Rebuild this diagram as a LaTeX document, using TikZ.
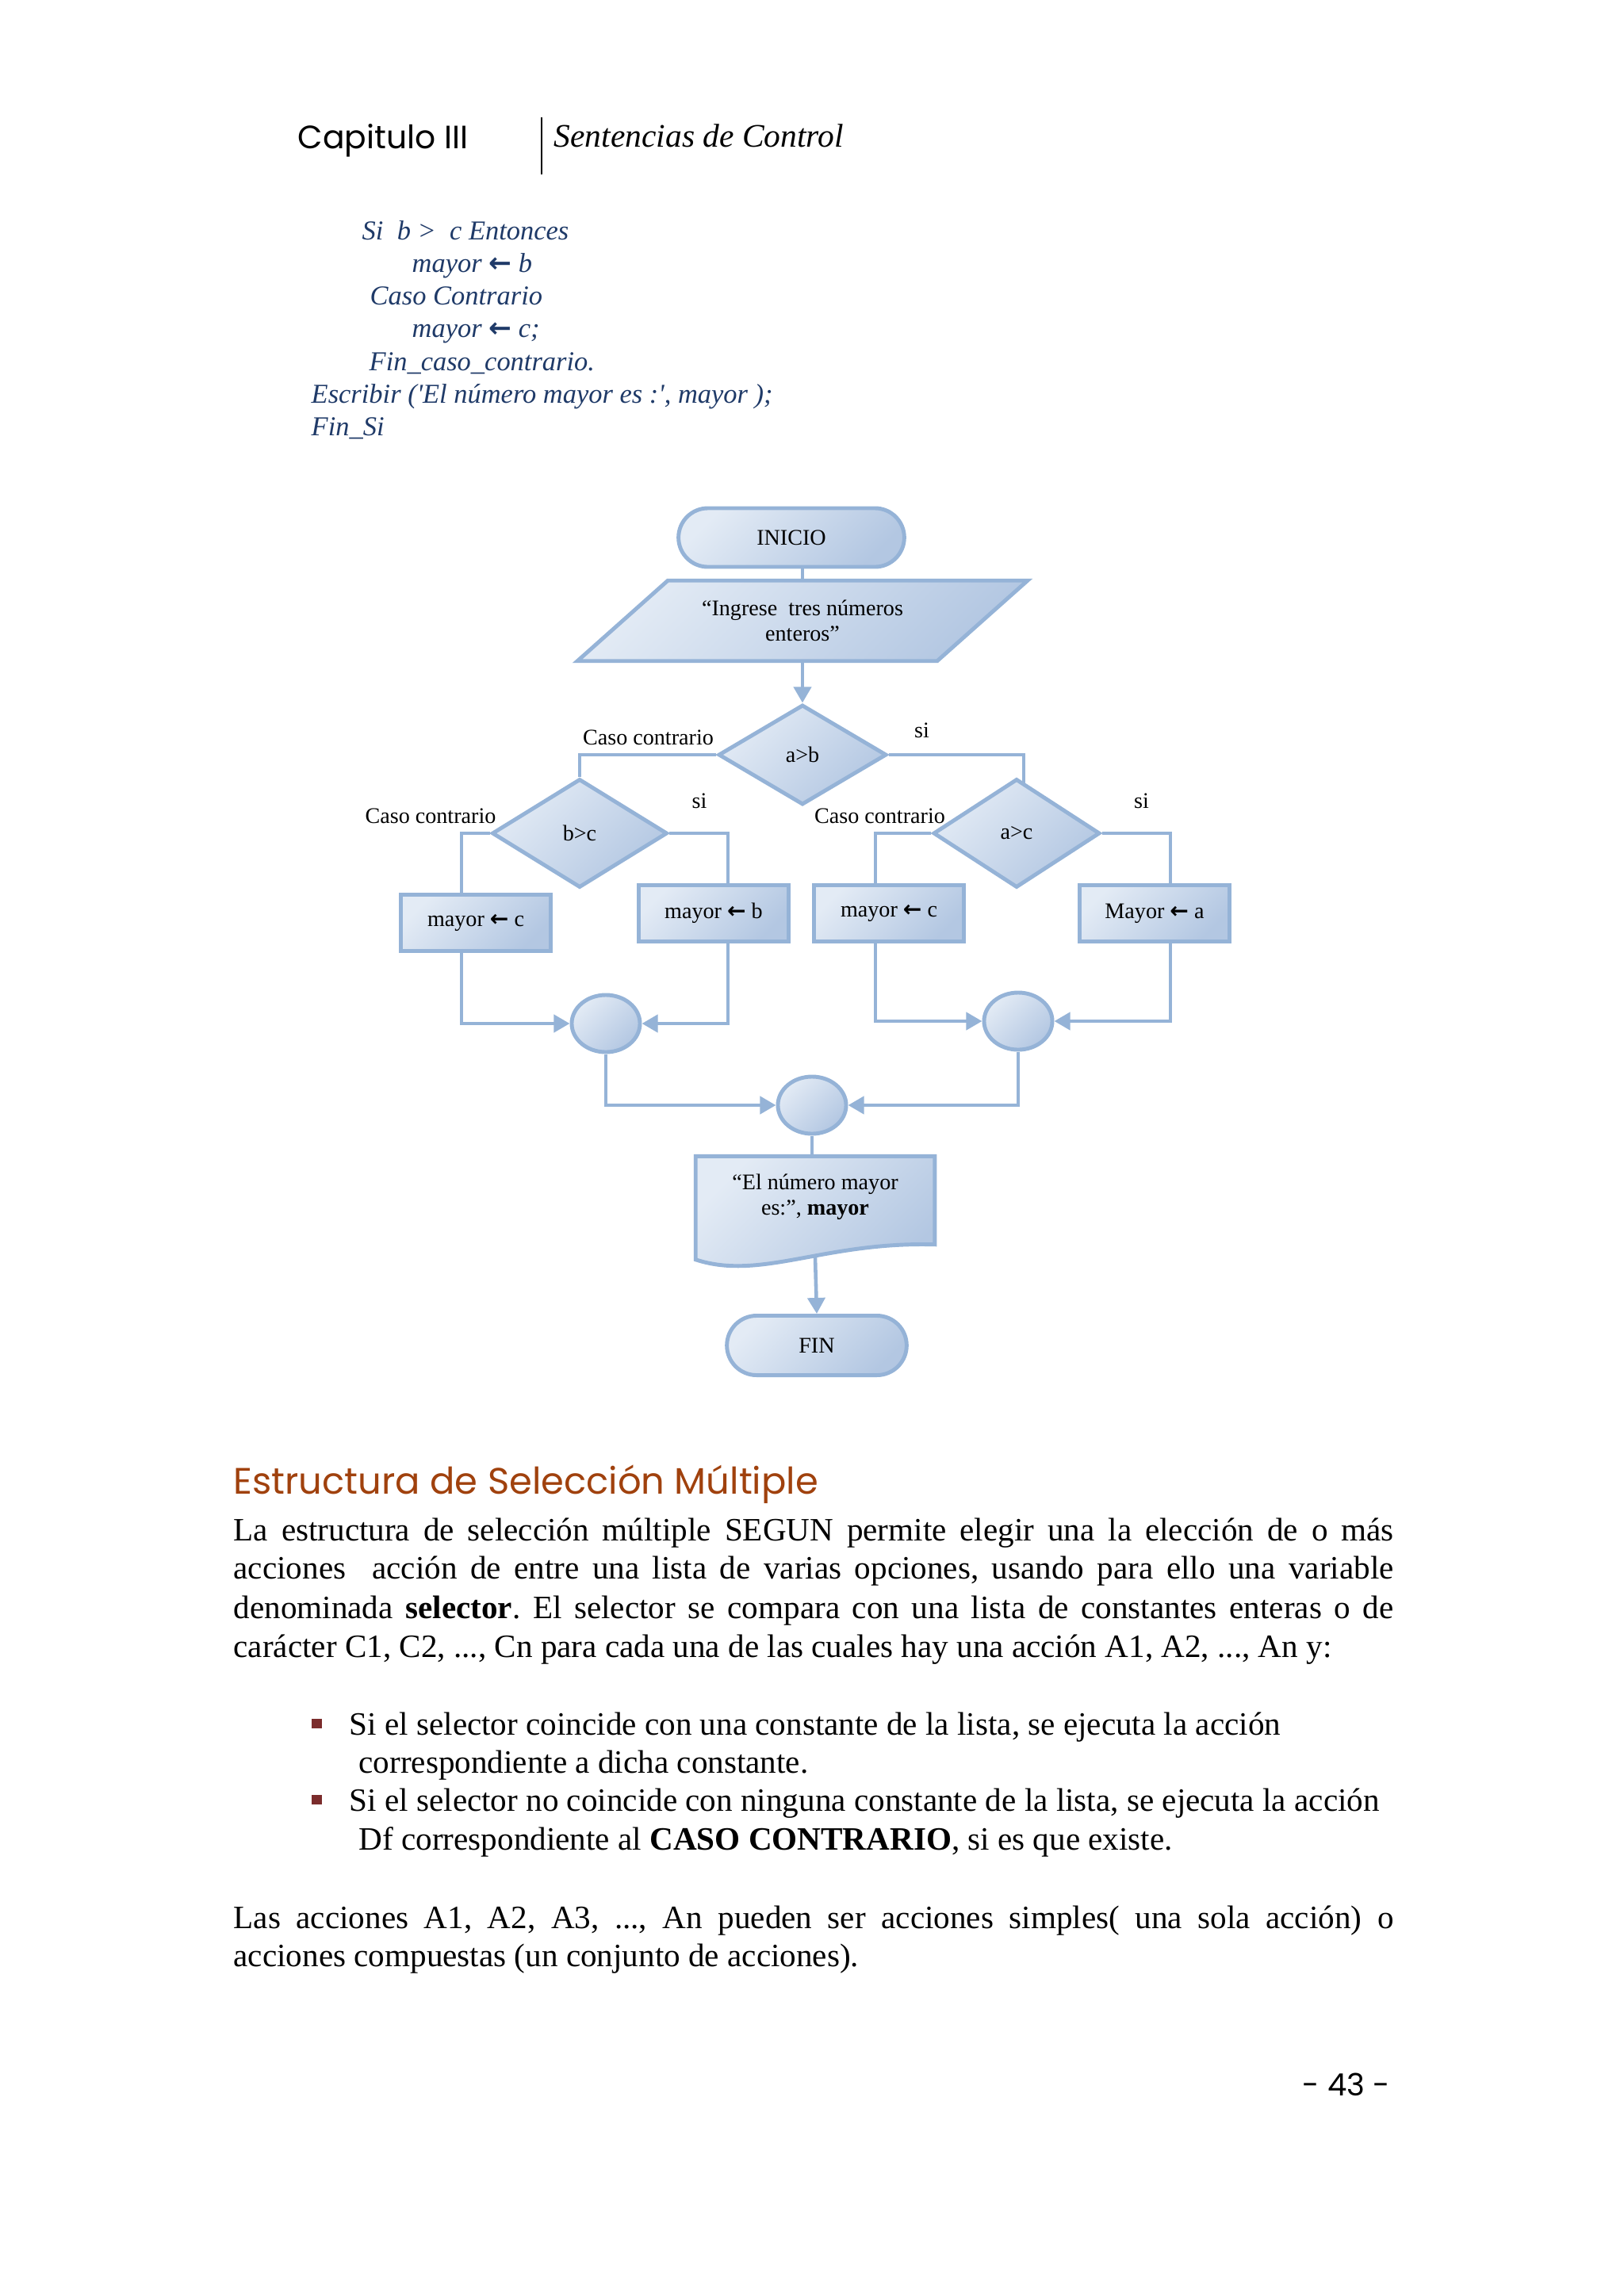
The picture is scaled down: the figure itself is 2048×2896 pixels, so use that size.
\documentclass[tikz,border=0pt]{standalone}
\usepackage{fontspec}
\setmainfont{Liberation Serif}
\newfontfamily\gotica{Poppins}
\newfontfamily\simbolo{DejaVu Sans}
\usepackage{tikz}
\usetikzlibrary{shapes.geometric,shapes.misc,arrows.meta,positioning,calc,backgrounds}

\definecolor{borde}{HTML}{95B3D7}
\definecolor{claro}{HTML}{E3EBF5}
\definecolor{oscuro}{HTML}{B3C7E2}
\definecolor{pseudo}{HTML}{1F3A68}
\definecolor{titulo}{HTML}{A0410D}
\definecolor{vineta}{HTML}{7B2C2C}

\newcommand{\asigna}{{\simbolo\bfseries ←}}
\frenchspacing

\begin{document}
\begin{tikzpicture}[x=0.01cm,y=-0.01cm]
            \tikzset{
                forma/.style={draw=borde, line width=1.4pt, top color=claro, bottom color=oscuro, shading angle=45, font=\fontsize{8}{9}\selectfont},
                terminal/.style={forma, rounded rectangle, minimum height=0.74cm},
                proceso/.style={forma, rectangle, minimum width=1.88cm, minimum height=0.71cm},
                decision/.style={forma, diamond, inner sep=0pt, minimum height=1.37cm},
                union/.style={forma, ellipse, inner sep=0pt, minimum width=0.86cm, minimum height=0.72cm},
                linea/.style={draw=borde, line width=1.3pt},
                flecha/.style={linea, -{Triangle[length=5.7pt,width=6.2pt]}},
                etiqueta/.style={font=\fontsize{8}{9}\selectfont, inner sep=0pt},
                codigo/.style={anchor=base west, inner sep=0pt, text=pseudo, font=\fontsize{9.8}{12}\selectfont\itshape},
                texto/.style={anchor=base west, inner sep=0pt, font=\fontsize{11.7}{14}\selectfont},
                bala/.style={rectangle, fill=vineta, inner sep=0pt, minimum width=0.13cm, minimum height=0.12cm}
            }
            \useasboundingbox (0,0) rectangle (2048,2896);

            % cabecera
            \node[anchor=base west, inner sep=0pt, font=\gotica\fontsize{11.6}{14}\selectfont] (cap) at (375,187) {Capitulo III};
            \draw[line width=0.5pt] (683,148) -- (683,220);
            \node[anchor=base west, inner sep=0pt, font=\fontsize{11.8}{14}\selectfont\itshape] (tema) at (698,185) {Sentencias de Control};

            % pseudocodigo
            \node[codigo] (p1) at (456,302) {Si\ \ b >\ \ c Entonces};
            \node[codigo] (p2) at (519,343) {mayor \asigna\ b};
            \node[codigo] (p3) at (466,384) {Caso Contrario};
            \node[codigo] (p4) at (519,425) {mayor \asigna\ c;};
            \node[codigo] (p5) at (465,467) {Fin\_caso\_contrario.};
            \node[codigo] (p6) at (392,508) {Escribir (\textquotesingle El número mayor es :\textquotesingle, mayor );};
            \node[codigo] (p7) at (392,549) {Fin\_Si};

            % diagrama
            \node[terminal, minimum width=3.08cm] (ini) at (998,678) {INICIO};
            \node[etiqueta, align=center, minimum width=4.52cm, minimum height=1cm] (leer) at (1012,783) {“Ingrese\ \ tres números\\enteros”};
            \node[decision, minimum width=2.12cm, minimum height=1.26cm] (ab) at (1012,952) {a>b};
            \node[decision, minimum width=2.21cm] (bc) at (731,1051) {b>c};
            \node[decision, minimum width=2.1cm] (ac) at (1282,1051) {a>c};
            \node[proceso] (mc1) at (600,1164) {mayor \asigna\ c};
            \node[proceso] (mb) at (900,1152) {mayor \asigna\ b};
            \node[proceso] (mc2) at (1121,1152) {mayor \asigna\ c};
            \node[proceso] (ma) at (1456,1152) {Mayor \asigna\ a};
            \node[union] (u1) at (764,1291) {};
            \node[union] (u2) at (1284,1288) {};
            \node[union] (u3) at (1024,1394) {};
            \node[etiqueta, align=center, minimum width=3cm, minimum height=1.02cm] (doc) at (1028,1510) {“El número mayor\\es:”, \textbf{mayor}};
            \node[terminal, minimum width=2.5cm, minimum height=0.75cm] (fin) at (1030,1697) {FIN};

            \begin{scope}[on background layer]
                \fill[white] (0,0) rectangle (2048,2896);
                \path[forma] ($(leer.north west)+(57,0)$) -- ($(leer.north east)+(57,0)$)
                    -- ($(leer.south east)+(-57,0)$) -- ($(leer.south west)+(-57,0)$) -- cycle;
                \path[forma] (doc.north west) -- (doc.north east) -- ($(doc.south east)+(0,8)$)
                    .. controls ($(doc.south west)+(162,4)$) and ($(doc.south west)+(82,54)$) .. ($(doc.south west)+(0,27)$) -- cycle;
            \end{scope}

            \node[etiqueta] (no1) at ($(ab.west)+(-86,-22)$) {Caso contrario};
            \node[etiqueta] (si1) at ($(ab.east)+(42,-31)$) {si};
            \node[etiqueta] (no2) at ($(bc.west)+(-75,-22)$) {Caso contrario};
            \node[etiqueta] (si2) at ($(bc.east)+(38,-41)$) {si};
            \node[etiqueta] (no3) at ($(ac.west)+(-65,-22)$) {Caso contrario};
            \node[etiqueta] (si3) at ($(ac.east)+(50,-41)$) {si};

            \draw[linea] (leer.north |- ini.south) -- (leer.north);
            \draw[flecha] (leer.south) -- (ab.north);
            \draw[linea] (ab.west) -| (bc.north);
            \draw[linea] (ab.east) -| ([xshift=0.09cm,yshift=-0.1cm]ac.north);
            \draw[linea] (bc.west) -| ([xshift=-0.18cm]mc1.north);
            \draw[linea] (bc.east) -| ([xshift=0.18cm]mb.north);
            \draw[linea] (ac.west) -| ([xshift=-0.17cm]mc2.north);
            \draw[linea] (ac.east) -| ([xshift=0.2cm]ma.north);
            \draw[flecha] ([xshift=-0.18cm]mc1.south) |- (u1.west);
            \draw[flecha] ([xshift=0.18cm]mb.south) |- (u1.east);
            \draw[flecha] ([xshift=-0.17cm]mc2.south) |- (u2.west);
            \draw[flecha] ([xshift=0.2cm]ma.south) |- (u2.east);
            \draw[flecha] (u1.south) |- (u3.west);
            \draw[flecha] (u2.south) |- (u3.east);
            \draw[linea] (u3.south) -- (u3.south |- doc.north);
            \draw[flecha] ([yshift=-0.24cm]doc.south) -- (fin.north);

            % texto de la pagina
            \node[anchor=base west, inner sep=0pt, text=titulo, font=\gotica\fontsize{13.2}{16}\selectfont] (sec) at (294,1884) {Estructura de Selección Múltiple};
            \node[texto] (l1) at (294,1943) {\makebox[14.62cm][s]{La estructura de selección múltiple SEGUN permite elegir una la elección de o más}};
            \node[texto] (l2) at (294,1991) {\makebox[14.62cm][s]{acciones\ \ acción de entre una lista de varias opciones, usando para ello una variable}};
            \node[texto] (l3) at (294,2041) {\makebox[14.62cm][s]{denominada \textbf{selector}. El selector se compara con una lista de constantes enteras o de}};
            \node[texto] (l4) at (294,2090) {carácter C1, C2, ..., Cn para cada una de las cuales hay una acción A1, A2, ..., An y:};

            \node[bala] (bala1) at (399.5,2174) {};
            \node[texto] (b1) at (440,2188) {Si el selector coincide con una constante de la lista, se ejecuta la acción};
            \node[texto] (b1b) at (452,2236) {correspondiente a dicha constante.};
            \node[bala] (bala2) at (399.5,2270) {};
            \node[texto] (b2) at (440,2284) {Si el selector no coincide con ninguna constante de la lista, se ejecuta la acción};
            \node[texto] (b2b) at (452,2333) {Df correspondiente al \textbf{CASO CONTRARIO}, si es que existe.};

            \node[texto] (q1) at (294,2432) {\makebox[14.62cm][s]{Las acciones A1, A2, A3, ..., An pueden ser acciones simples( una sola acción) o}};
            \node[texto] (q2) at (294,2480) {acciones compuestas (un conjunto de acciones).};

            \node[anchor=base east, inner sep=0pt, font=\gotica\fontsize{11}{14}\selectfont] (pag) at (1754,2643) {- 43 -};
\end{tikzpicture}
\end{document}
